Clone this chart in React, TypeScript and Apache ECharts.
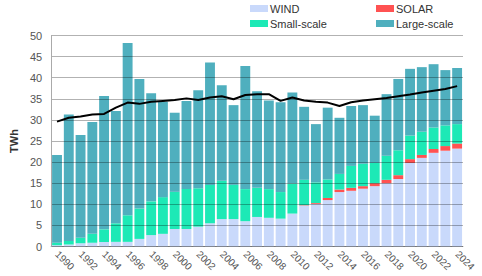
import React, { useEffect, useRef } from "react";
import * as echarts from "echarts";

const years: string[] = [];
for (let y = 1990; y <= 2024; y++) years.push(String(y));

const wind = [0.3, 0.5, 0.75, 0.9, 1.07, 1.1, 1.1, 1.8, 2.7, 3.0, 4.15, 4.15, 4.7, 5.5, 6.5, 6.5, 6.0, 7.0, 6.8, 6.6, 7.8, 9.7, 10.1, 11.0, 12.9, 13.2, 13.7, 14.3, 15.0, 16.0, 19.8, 21.0, 22.2, 22.7, 23.2];
const solar = [0, 0, 0, 0, 0, 0, 0, 0, 0, 0, 0, 0, 0, 0, 0, 0, 0, 0, 0, 0, 0, 0.1, 0.2, 0.5, 0.6, 0.7, 0.6, 0.7, 0.8, 0.9, 0.9, 0.7, 0.9, 1.1, 1.2];
const smallScale = [0.6, 0.8, 1.35, 2.1, 3.0, 4.4, 6.3, 7.2, 8.0, 8.7, 8.8, 9.5, 9.1, 9.1, 9.1, 8.1, 7.6, 6.9, 6.8, 6.3, 7.1, 6.0, 4.9, 4.4, 3.7, 5.2, 5.3, 4.8, 5.7, 5.9, 5.6, 5.5, 5.1, 4.9, 4.6];
const largeScale = [20.8, 30.0, 24.3, 26.5, 31.6, 26.6, 40.8, 30.7, 25.6, 22.6, 18.75, 20.85, 23.2, 29.0, 22.6, 18.9, 29.2, 22.9, 21.0, 21.3, 21.6, 17.3, 13.8, 17.0, 13.3, 14.2, 13.9, 11.2, 14.6, 16.9, 15.8, 15.3, 15.0, 13.1, 13.3];
const trend = [29.6, 30.5, 30.8, 31.3, 31.4, 32.9, 34.1, 33.8, 34.3, 34.5, 34.7, 35.1, 34.7, 35.3, 35.6, 34.9, 35.9, 36.1, 36.1, 34.5, 35.3, 34.6, 34.3, 34.1, 33.3, 34.2, 34.6, 34.9, 35.2, 35.6, 36.0, 36.5, 36.9, 37.3, 38.0];

const FONT = "Liberation Sans, Arial, sans-serif";

export default function App() {
  const ref = useRef<HTMLDivElement>(null);
  useEffect(() => {
    document.body.style.margin = "0";
    if (!ref.current) return;
    const chart = echarts.init(ref.current, null, { renderer: "svg" });
    const barBase = {
      type: "bar",
      stack: "total",
      barCategoryGap: "16%",
    };
    chart.setOption({
      animation: false,
      textStyle: { fontFamily: FONT },
      legend: [
        {
          data: ["WIND", "Small-scale"],
          orient: "vertical",
          left: 250,
          top: 3,
          itemWidth: 18,
          itemHeight: 7,
          itemGap: 4,
          icon: "rect",
          textStyle: { fontSize: 11, color: "#333", padding: [0, 0, 0, -3] },
          padding: 0,
        },
        {
          data: ["SOLAR", "Large-scale"],
          orient: "vertical",
          left: 376,
          top: 3,
          itemWidth: 18,
          itemHeight: 7,
          itemGap: 4,
          icon: "rect",
          textStyle: { fontSize: 11, color: "#333", padding: [0, 0, 0, -3] },
          padding: 0,
        },
      ],
      grid: { left: 45, right: 19, top: 35.5, bottom: 29.5 },
      xAxis: {
        type: "category",
        data: years,
        axisLine: { lineStyle: { color: "#aaa" } },
        axisTick: { interval: 0, length: 4, lineStyle: { color: "#aaa" } },
        axisLabel: { interval: 1, rotate: -45, fontSize: 10, color: "#555", margin: 6 },
      },
      yAxis: {
        type: "value",
        min: 0,
        max: 50,
        interval: 5,
        z: 3,
        name: "TWh",
        nameLocation: "middle",
        nameGap: 26,
        nameTextStyle: { fontSize: 11, color: "#333", fontWeight: "bold" },
        axisLine: { show: true, lineStyle: { color: "#aaa" } },
        axisLabel: { fontSize: 11, color: "#555", margin: 9 },
        splitLine: { lineStyle: { color: "rgba(0,0,0,0.3)", width: 1 } },
      },
      series: [
        { ...barBase, name: "WIND", data: wind, itemStyle: { color: "#c9d9fb" } },
        { ...barBase, name: "SOLAR", data: solar, itemStyle: { color: "#ff5252" } },
        { ...barBase, name: "Small-scale", data: smallScale, itemStyle: { color: "#1de9b6" } },
        { ...barBase, name: "Large-scale", data: largeScale, itemStyle: { color: "#4fafbe" } },
        {
          type: "line",
          name: "Trend",
          data: trend,
          z: 5,
          symbol: "none",
          lineStyle: { color: "#000", width: 2 },
        },
      ],
    });
    return () => chart.dispose();
  }, []);
  return <div ref={ref} style={{ width: 482, height: 276 }} />;
}
